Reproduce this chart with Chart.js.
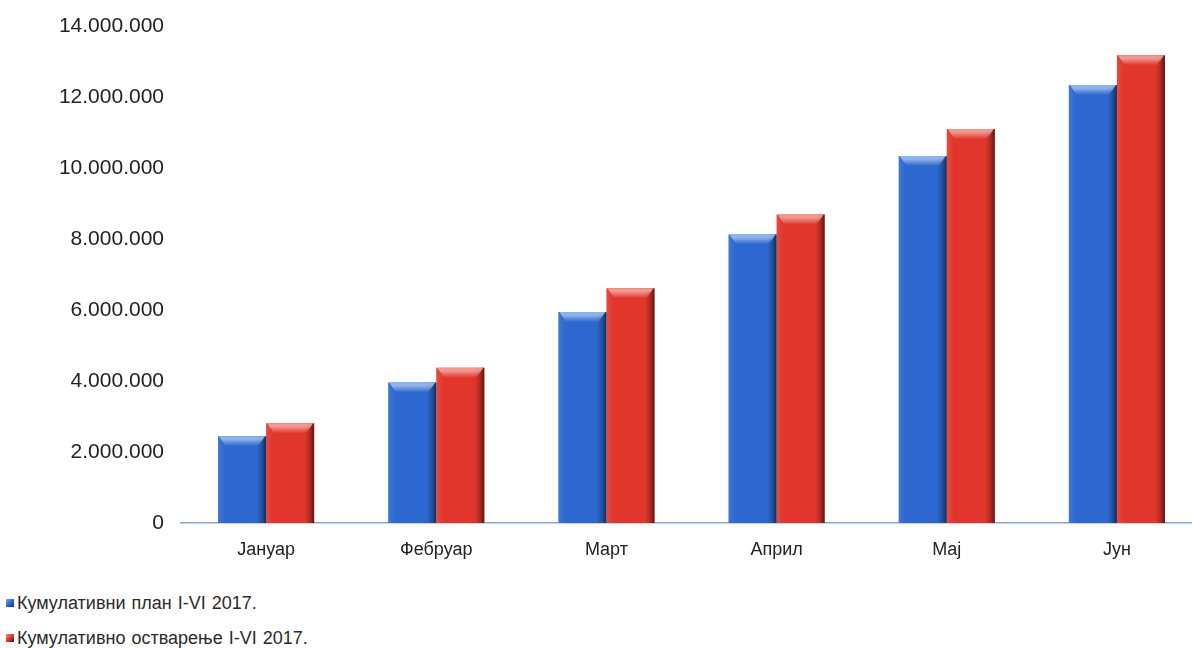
<!DOCTYPE html>
<html>
<head>
<meta charset="utf-8">
<script src="https://cdn.jsdelivr.net/npm/chart.js@4.4.1/dist/chart.umd.min.js"></script>
<style>
  html, body { margin: 0; padding: 0; background: #ffffff; overflow: hidden; width: 1192px; height: 648px; }
  #wrap { position: absolute; left: 0; top: -3px; width: 1202px; height: 582px; }
  #legend { position: absolute; left: 6px; top: 585px; font-family: "Liberation Sans", Arial, sans-serif; font-size: 18px; color: #2a2a2a; }
  .item { height: 35px; line-height: 24px; display: flex; align-items: center; word-spacing: 1px; }
  .mark { width: 8px; height: 8px; margin-right: 3px; display: inline-block; }
</style>
</head>
<body>
<div id="wrap"><canvas id="c"></canvas></div>
<div id="legend"></div>
<script>
const categories = ['Јануар', 'Фебруар', 'Март', 'Април', 'Мај', 'Јун'];
const seriesNames = ['Кумулативни план I-VI 2017.', 'Кумулативно остварење I-VI 2017.'];
const planValues = [2450000, 3960000, 5950000, 8140000, 10350000, 12350000];
const actualValues = [2810000, 4380000, 6620000, 8700000, 11110000, 13190000];
const yTicks = [0, 2000000, 4000000, 6000000, 8000000, 10000000, 12000000, 14000000];

const colors = ['#2c68cf', '#e2362c'];
const darks = ['#123a80', '#5a1410'];
const lights = ['#7fb0f5', '#f7907f'];

function fmt(v) {
  return String(v).replace(/\B(?=(\d{3})+(?!\d))/g, '.');
}

const bevelPlugin = {
  id: 'bevel',
  afterDatasetsDraw(chart) {
    const ctx = chart.ctx;
    chart.data.datasets.forEach((ds, di) => {
      const meta = chart.getDatasetMeta(di);
      meta.data.forEach(el => {
        const p = el.getProps(['x', 'y', 'base', 'width'], true);
        const l = p.x - p.width / 2, r = p.x + p.width / 2, t = p.y, b = p.base;
        ctx.save();
        const g = ctx.createLinearGradient(l, 0, r, 0);
        g.addColorStop(0, 'rgba(255,255,255,0.10)');
        g.addColorStop(0.15, 'rgba(255,255,255,0.0)');
        g.addColorStop(0.80, 'rgba(0,0,0,0.0)');
        g.addColorStop(0.92, 'rgba(0,0,0,0.25)');
        g.addColorStop(1, 'rgba(0,0,0,0.6)');
        ctx.fillStyle = g;
        ctx.fillRect(l, t, r - l, b - t);
        const bh = 10;
        const tg = ctx.createLinearGradient(0, t, 0, t + bh);
        tg.addColorStop(0, lights[di]);
        tg.addColorStop(0.5, 'rgba(255,255,255,0.35)');
        tg.addColorStop(1, 'rgba(255,255,255,0)');
        ctx.fillStyle = tg;
        ctx.beginPath();
        ctx.moveTo(l + 1, t);
        ctx.lineTo(r - 1, t);
        ctx.lineTo(r - 8, t + bh);
        ctx.lineTo(l + 8, t + bh);
        ctx.closePath();
        ctx.fill();
        ctx.restore();
      });
    });
  }
};

new Chart(document.getElementById('c'), {
  type: 'bar',
  data: {
    labels: categories,
    datasets: [
      { label: seriesNames[0], data: planValues, backgroundColor: colors[0], borderWidth: 0 },
      { label: seriesNames[1], data: actualValues, backgroundColor: colors[1], borderWidth: 0 }
    ]
  },
  options: {
    responsive: true,
    maintainAspectRatio: false,
    animation: false,
    layout: { padding: { top: 0, right: 0, bottom: 0, left: 0 } },
    datasets: { bar: { categoryPercentage: 0.565, barPercentage: 1.0 } },
    plugins: { legend: { display: false }, tooltip: { enabled: false } },
    scales: {
      x: {
        grid: { display: false, drawTicks: false },
        border: { display: true, color: '#8ea6c6', width: 1.5 },
        ticks: { padding: 16, color: '#222', font: { family: '"Liberation Sans", Arial, sans-serif', size: 18 } },
        afterFit(s) { s.height = 56; }
      },
      y: {
        min: 0, max: 14000000,
        afterBuildTicks(s) { s.ticks = yTicks.map(v => ({ value: v })); },
        grid: { display: false, drawTicks: false },
        border: { display: false },
        ticks: { padding: 17, color: '#222', font: { family: '"Liberation Sans", Arial, sans-serif', size: 21 }, callback: v => fmt(v) },
        afterFit(s) { s.width = 181; }
      }
    }
  },
  plugins: [bevelPlugin]
});

const lg = document.getElementById('legend');
seriesNames.forEach((n, i) => {
  const d = document.createElement('div');
  d.className = 'item';
  const m = document.createElement('span');
  m.className = 'mark';
  m.style.background = 'linear-gradient(135deg,' + lights[i] + ',' + colors[i] + ' 50%,' + darks[i] + ')';
  const t = document.createElement('span');
  t.textContent = n;
  d.appendChild(m);
  d.appendChild(t);
  lg.appendChild(d);
});
</script>
</body>
</html>
